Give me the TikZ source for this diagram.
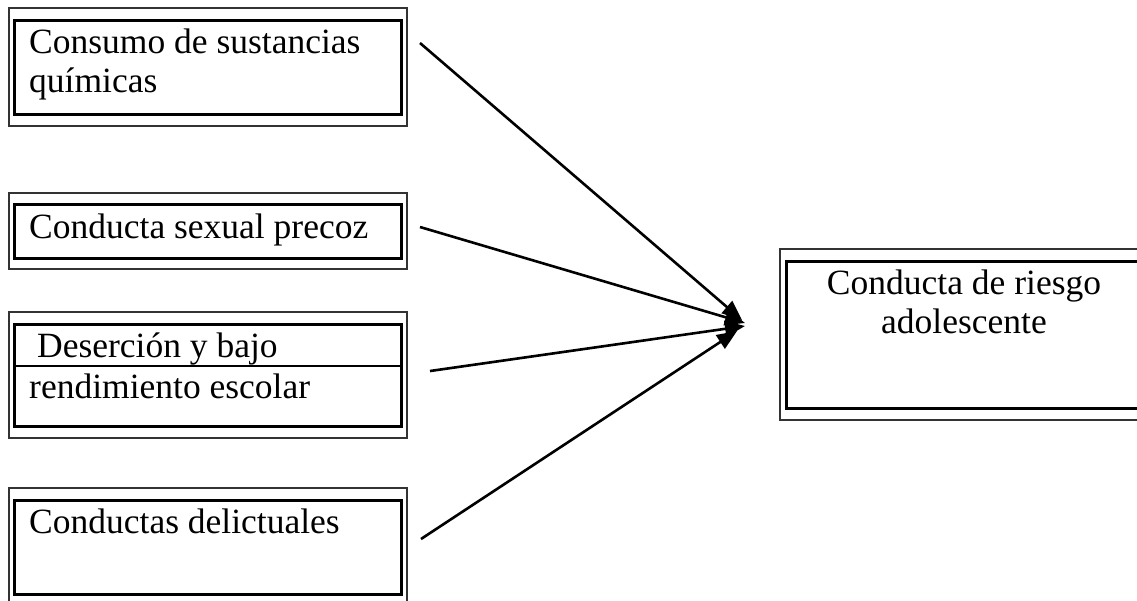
\documentclass[tikz,border=0pt]{standalone}
\usepackage{fontspec}
\setmainfont{Liberation Serif}
\usetikzlibrary{arrows.meta}

\tikzset{
  outerframe/.style={draw=black!80, line width=1.6pt, fill=none, inner sep=0pt, anchor=north west},
  innerframe/.style={draw=black, line width=2.7pt, fill=none, inner sep=0pt, anchor=north west},
  divider/.style={draw=black, line width=1.8pt},
  lbl/.style={inner sep=0pt, font=\fontsize{35.5}{39}\selectfont},
  link/.style={draw=black, line width=2.6pt, -{Triangle[length=20pt,width=16pt]}}
}

\begin{document}
\begin{tikzpicture}[x=1pt, y=-1pt]
\useasboundingbox (0,0) rectangle (1137,600);

% left column: double-framed boxes
\node[outerframe, minimum width=398pt, minimum height=118pt] (o1) at (8,7) {};
\node[innerframe, minimum width=387pt, minimum height=94pt] (b1) at (13,19) {};
\node[lbl, anchor=base west] (t1a) at (29,53) {Consumo de sustancias};
\node[lbl, anchor=base west] (t1b) at (29,92) {químicas};

\node[outerframe, minimum width=398pt, minimum height=76pt] (o2) at (8,192) {};
\node[innerframe, minimum width=387pt, minimum height=54pt] (b2) at (13,203) {};
\node[lbl, anchor=base west] (t2) at (29,238) {Conducta sexual precoz};

\node[outerframe, minimum width=398pt, minimum height=126pt] (o3) at (8,311) {};
\node[innerframe, minimum width=387pt, minimum height=102pt] (b3) at (13,323) {};
\coordinate (d3l) at (13,366);
\coordinate (d3r) at (400,366);
\draw[divider] (d3l) -- (d3r);
\node[lbl, anchor=base west] (t3a) at (37,357) {Deserción y bajo};
\node[lbl, anchor=base west] (t3b) at (29,398) {rendimiento escolar};

\node[outerframe, minimum width=398pt, minimum height=118pt] (o4) at (8,487) {};
\node[innerframe, minimum width=387pt, minimum height=94pt] (b4) at (13,499) {};
\node[lbl, anchor=base west] (t4) at (29,533) {Conductas delictuales};

% right box: the outcome
\node[outerframe, minimum width=366pt, minimum height=171pt] (o5) at (779,248) {};
\node[innerframe, minimum width=355pt, minimum height=147pt] (b5) at (785,260) {};
\node[lbl, anchor=base] (t5a) at (964,294) {Conducta de riesgo};
\node[lbl, anchor=base] (t5b) at (964,333) {adolescente};

% arrows converging on the outcome
\coordinate (s1) at (420,43);
\coordinate (s2) at (420,227);
\coordinate (s3) at (430,371);
\coordinate (s4) at (421,539);
\coordinate (e1) at (742,320);
\coordinate (e2) at (745,323);
\coordinate (e3) at (745,326);
\coordinate (e4) at (737,331);
\draw[link] (s1) -- (e1);
\draw[link] (s2) -- (e2);
\draw[link] (s3) -- (e3);
\draw[link] (s4) -- (e4);
\end{tikzpicture}
\end{document}
